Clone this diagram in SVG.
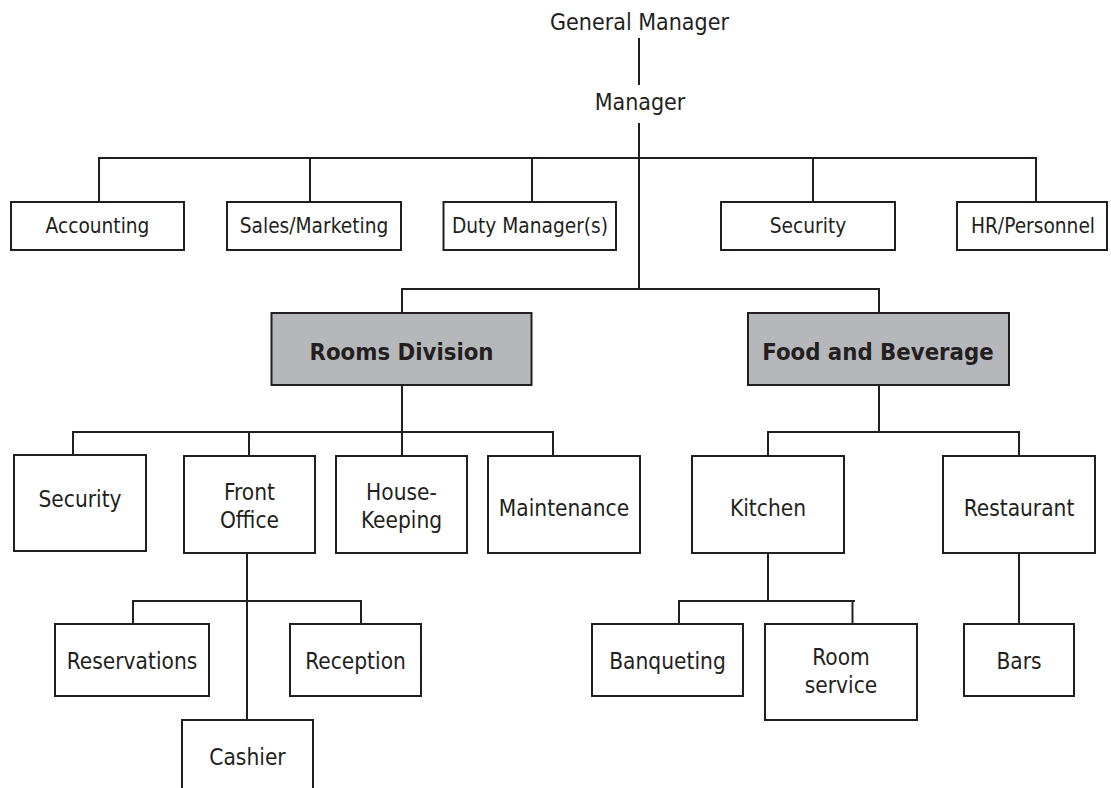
<svg xmlns="http://www.w3.org/2000/svg" width="1111" height="788" viewBox="0 0 1111 788">
  <style>
    .box { fill: #ffffff; stroke: #231f20; stroke-width: 2; }
    .div { fill: #b6b7ba; stroke: #231f20; stroke-width: 2; }
    .wire { fill: none; stroke: #231f20; stroke-width: 2; }
    text { font-family: "DejaVu Sans Condensed", "DejaVu Sans", "Liberation Sans", sans-serif; font-stretch: condensed; fill: #231f20; text-anchor: middle; }
    .head { font-size: 23px; }
    .dept { font-size: 20.7px; }
    .unit { font-size: 22.5px; }
    .bold { font-size: 23.7px; font-weight: bold; }
  </style>

  <!-- connectors -->
  <g id="connectors" class="wire">
    <!-- general manager to manager -->
    <line x1="639" y1="38" x2="639" y2="85"/>
    <!-- manager trunk down to the division bar -->
    <line x1="639" y1="123" x2="639" y2="289"/>
    <!-- staff departments -->
    <polyline points="99,202 99,158 1036,158 1036,202"/>
    <line x1="310" y1="158" x2="310" y2="202"/>
    <line x1="532" y1="158" x2="532" y2="202"/>
    <line x1="813" y1="158" x2="813" y2="202"/>
    <!-- divisions -->
    <polyline points="402,313 402,289 879,289 879,313"/>
    <!-- rooms division units -->
    <line x1="402" y1="385" x2="402" y2="456"/>
    <polyline points="73,455 73,432 553,432 553,456"/>
    <line x1="249" y1="432" x2="249" y2="456"/>
    <!-- food and beverage units -->
    <line x1="879" y1="385" x2="879" y2="432"/>
    <polyline points="768,456 768,432 1019,432 1019,456"/>
    <!-- front office sections -->
    <line x1="247" y1="553" x2="247" y2="720"/>
    <polyline points="133,624 133,601 361,601 361,624"/>
    <!-- kitchen sections -->
    <line x1="768" y1="553" x2="768" y2="601"/>
    <polyline points="679,624 679,601 855,601"/>
    <line x1="852.5" y1="601" x2="852.5" y2="624"/>
    <!-- restaurant to bars -->
    <line x1="1019" y1="553" x2="1019" y2="624"/>
  </g>

  <!-- top of the hierarchy -->
  <g id="general-manager"><text class="head" x="639.5" y="30">General Manager</text></g>
  <g id="manager"><text class="head" x="640" y="110">Manager</text></g>

  <!-- staff departments -->
  <g id="accounting"><rect class="box" x="11" y="202" width="173" height="48"/><text class="dept" x="97.5" y="233">Accounting</text></g>
  <g id="sales-marketing"><rect class="box" x="227" y="202" width="174" height="48"/><text class="dept" x="314" y="233">Sales/Marketing</text></g>
  <g id="duty-manager"><rect class="box" x="443.5" y="202" width="172.5" height="48"/><text class="dept" x="530" y="233">Duty Manager(s)</text></g>
  <g id="security-top"><rect class="box" x="721" y="202" width="174" height="48"/><text class="dept" x="808" y="233">Security</text></g>
  <g id="hr-personnel"><rect class="box" x="957" y="202" width="150" height="48"/><text class="dept" x="1033" y="233">HR/Personnel</text></g>

  <!-- divisions -->
  <g id="rooms-division"><rect class="div" x="271.5" y="313" width="260" height="72"/><text class="bold" x="401.5" y="360">Rooms Division</text></g>
  <g id="food-beverage"><rect class="div" x="748" y="313" width="261" height="72"/><text class="bold" x="878" y="360">Food and Beverage</text></g>

  <!-- rooms division units -->
  <g id="security-rooms"><rect class="box" x="14" y="455" width="132" height="96"/><text class="unit" x="80" y="507">Security</text></g>
  <g id="front-office"><rect class="box" x="184" y="456" width="131" height="97"/><text class="unit" x="249.5" y="500">Front</text><text class="unit" x="249.5" y="528">Office</text></g>
  <g id="housekeeping"><rect class="box" x="336" y="456" width="131" height="97"/><text class="unit" x="401.5" y="500">House-</text><text class="unit" x="401.5" y="528">Keeping</text></g>
  <g id="maintenance"><rect class="box" x="488" y="456" width="152" height="97"/><text class="unit" x="564" y="516">Maintenance</text></g>

  <!-- food and beverage units -->
  <g id="kitchen"><rect class="box" x="692" y="456" width="152" height="97"/><text class="unit" x="768" y="516">Kitchen</text></g>
  <g id="restaurant"><rect class="box" x="943" y="456" width="152" height="97"/><text class="unit" x="1019" y="516">Restaurant</text></g>

  <!-- front office sections -->
  <g id="reservations"><rect class="box" x="55" y="624" width="154" height="72"/><text class="unit" x="132" y="669">Reservations</text></g>
  <g id="reception"><rect class="box" x="290" y="624" width="131" height="72"/><text class="unit" x="355.5" y="669">Reception</text></g>
  <g id="cashier"><rect class="box" x="182" y="720" width="131" height="90"/><text class="unit" x="247.5" y="765">Cashier</text></g>

  <!-- kitchen sections -->
  <g id="banqueting"><rect class="box" x="592" y="624" width="151" height="72"/><text class="unit" x="667.5" y="669">Banqueting</text></g>
  <g id="room-service"><rect class="box" x="765" y="624" width="152" height="96"/><text class="unit" x="841" y="665">Room</text><text class="unit" x="841" y="693">service</text></g>

  <!-- restaurant sections -->
  <g id="bars"><rect class="box" x="964" y="624" width="110" height="72"/><text class="unit" x="1019" y="669">Bars</text></g>
</svg>
